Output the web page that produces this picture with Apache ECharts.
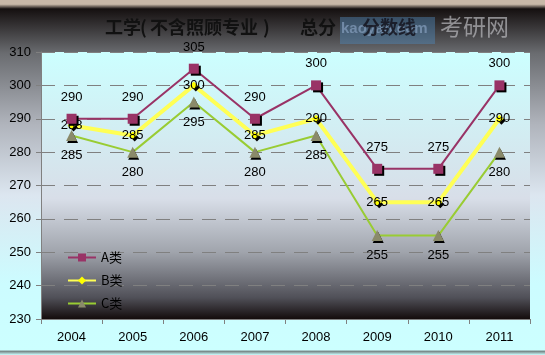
<!DOCTYPE html>
<html><head><meta charset="utf-8">
<script src="https://cdn.jsdelivr.net/npm/echarts@6/dist/echarts.min.js"></script>
<style>html,body{margin:0;padding:0;}#c{width:545px;height:355px;}</style>
</head><body><div id="c"></div>
<script>
const years = ['2004','2005','2006','2007','2008','2009','2010','2011'];
const seriesA = [290, 290, 305, 290, 300, 275, 275, 300];
const seriesB = [288, 285, 300, 285, 290, 265, 265, 290];
const seriesC = [285, 280, 295, 280, 285, 255, 255, 280];
const seriesNames = ['A类', 'B类', 'C类'];
const titlePieces = ['工学', '(', '不含照顾专业', ')', '总分', '分数线'];
const titleX = [105, 140, 150, 263, 300, 362];

const chart = echarts.init(document.getElementById('c'));
const lblFont = {fontFamily: 'Liberation Sans', fontSize: 13, color: '#000'};
const titleFont = 'bold 18px "Noto Sans CJK SC"';
const graphics = [
  {type: 'rect', left: 340, top: 17, shape: {width: 95, height: 27}, style: {fill: 'rgba(80,135,185,0.45)'}, z: 10},
  {type: 'text', left: 341, top: 21, style: {text: 'kaoyan.com', font: 'bold 15px "Liberation Sans"', fill: 'rgba(130,155,185,0.75)'}, z: 11},
  {type: 'text', left: 440, top: 15, style: {text: '考研网', font: '23px "Noto Sans CJK SC"', fill: 'rgba(185,185,190,0.7)'}, z: 11}
];
titlePieces.forEach((t, i) => graphics.push({type: 'text', left: titleX[i], top: 18,
  style: {text: t, font: titleFont, fill: i === 5 ? 'rgba(20,20,30,0.85)' : '#111'}, z: 20}));

chart.setOption({
  animation: false,
  backgroundColor: {type: 'linear', x: 0, y: 0, x2: 0, y2: 1, colorStops: [
    {offset: 0, color: '#c8b8a8'}, {offset: 0.012, color: '#c8b8a8'},
    {offset: 0.025, color: '#151010'}, {offset: 0.15, color: '#6a6c70'},
    {offset: 0.35, color: '#b0b4bc'}, {offset: 0.55, color: '#dce6f0'},
    {offset: 0.8, color: '#ccfcff'}, {offset: 0.985, color: '#ccffff'},
    {offset: 0.99, color: '#7a8a8a'}, {offset: 1, color: '#ccffff'}
  ]},
  graphic: graphics,
  legend: {orient: 'vertical', left: 62, top: 246, itemGap: 10, itemWidth: 28, itemHeight: 10,
    textStyle: {fontFamily: 'Noto Sans CJK SC', fontSize: 13, color: '#000'},
    data: seriesNames},
  grid: {left: 41, right: 15, top: 52, bottom: 36, show: true, borderWidth: 0,
    backgroundColor: {type: 'linear', x: 0, y: 0, x2: 0, y2: 1, colorStops: [
      {offset: 0, color: '#ccffff'}, {offset: 0.55, color: '#d8dee8'},
      {offset: 0.75, color: '#a0a4ac'}, {offset: 0.92, color: '#505058'}, {offset: 1, color: '#140c0c'}
    ]}},
  xAxis: {type: 'category', data: years, boundaryGap: true,
    axisLine: {lineStyle: {color: '#808080'}},
    axisTick: {show: true, length: 5, lineStyle: {color: '#808080'}},
    axisLabel: Object.assign({margin: 12}, lblFont)},
  yAxis: {type: 'value', min: 230, max: 310, interval: 10,
    axisLine: {show: true, lineStyle: {color: '#808080'}},
    axisTick: {show: true, length: 5, lineStyle: {color: '#808080'}},
    axisLabel: Object.assign({margin: 10}, lblFont),
    splitLine: {show: true, lineStyle: {color: '#808080', type: [14, 9], width: 1}}},
  series: [
    {name: seriesNames[0], type: 'line', data: seriesA, symbol: 'rect', symbolSize: 10, z: 5,
      lineStyle: {color: '#993366', width: 2}, itemStyle: {color: '#993366', shadowColor: '#000', shadowOffsetX: 2, shadowOffsetY: 2},
      label: Object.assign({show: true, position: 'top', distance: 10}, lblFont)},
    {name: seriesNames[1], type: 'line', data: seriesB, symbol: 'diamond', symbolSize: 8, z: 4,
      lineStyle: {color: '#ffff55', width: 4}, itemStyle: {color: '#ffff00', shadowColor: '#000', shadowOffsetX: 2, shadowOffsetY: 2},
      label: Object.assign({show: true, position: 'inside'}, lblFont)},
    {name: seriesNames[2], type: 'line', data: seriesC, symbol: 'triangle', symbolSize: 11, z: 3,
      lineStyle: {color: '#99cc33', width: 2}, itemStyle: {color: '#8a8a6a', shadowColor: '#000', shadowOffsetX: 1, shadowOffsetY: 2},
      label: Object.assign({show: true, position: 'bottom', distance: 8}, lblFont)}
  ]
});
</script></body></html>
